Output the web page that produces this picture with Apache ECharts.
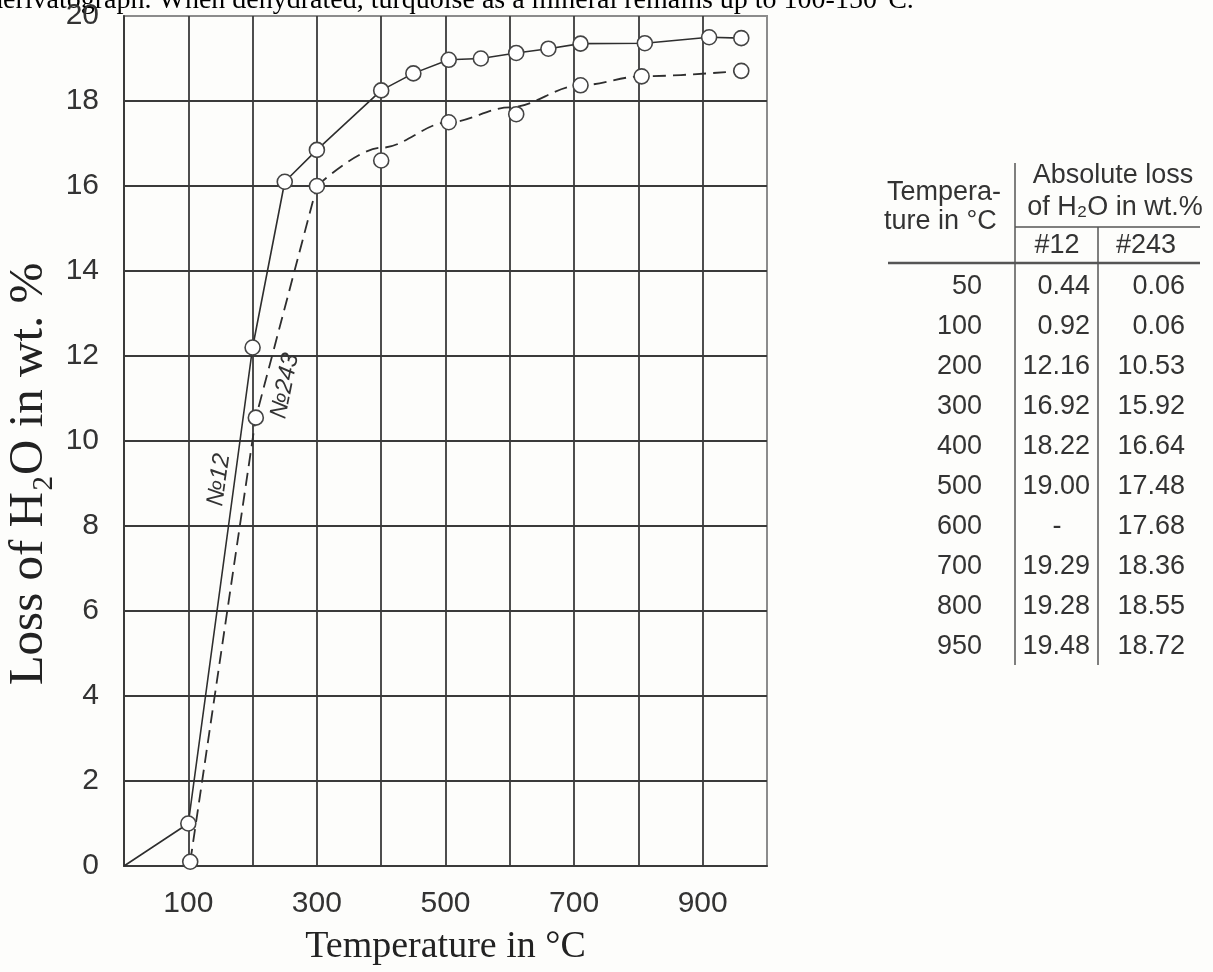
<!DOCTYPE html>
<html>
<head>
<meta charset="utf-8">
<title>Loss of H2O</title>
<script src="https://cdn.jsdelivr.net/npm/echarts@6.0.0/dist/echarts.min.js"></script>
<style>
html, body { margin: 0; padding: 0; background: #fdfdfb; }
#lossChart { width: 1213px; height: 972px; }
</style>
</head>
<body>
<div id="lossChart"></div>
<script>
// №12 - points (solid line, first point has no circle)
var temp12 = [0, 100, 200, 250, 300, 400, 450, 505, 555, 610, 660, 710, 810, 910, 960];
var loss12 = [0, 1.0, 12.2, 16.1, 16.85, 18.25, 18.65, 18.97, 19.0, 19.13, 19.23, 19.35, 19.36, 19.5, 19.48];
// №243 - circles
var temp243 = [103, 205, 300, 400, 505, 610, 710, 805, 960];
var loss243 = [0.1, 10.55, 16.0, 16.6, 17.5, 17.69, 18.37, 18.58, 18.71];
// №243 - dashed curve as drawn (straight up to 300, then a smooth curve above some circles)
var curveTemp243 = [103, 205, 300, 400, 505, 600, 710, 805, 960];
var curveLoss243 = [0.1, 10.55, 16.0, 16.9, 17.5, 17.85, 18.37, 18.58, 18.71];
var xTickLabels = [100, 300, 500, 700, 900];
// table at the right
var tableTemp = ['50', '100', '200', '300', '400', '500', '600', '700', '800', '950'];
var table12 = ['0.44', '0.92', '12.16', '16.92', '18.22', '19.00', '-', '19.29', '19.28', '19.48'];
var table243 = ['0.06', '0.06', '10.53', '15.92', '16.64', '17.48', '17.68', '18.36', '18.55', '18.72'];

var SANS = '"Liberation Sans", Arial, sans-serif';
var SERIF = '"Liberation Serif", "Times New Roman", serif';
var INK = '#333';

lossChart("lossChart");

function pairs(xs, ys) {
	return xs.map(function (x, i) { return [x, ys[i]]; });
}

function txt(x, y, text, size, align, extra) {
	var el = {
		type: 'text', x: x, y: y, z: 10,
		style: {
			text: text, fill: INK, fontSize: size, fontFamily: SANS,
			align: align || 'left', verticalAlign: 'middle'
		}
	};
	if (extra) {
		for (var k in extra) el[k] = extra[k];
	}
	return el;
}

function line(x1, y1, x2, y2, w) {
	return { type: 'line', z: 10, shape: { x1: x1, y1: y1, x2: x2, y2: y2 }, style: { stroke: '#555', lineWidth: w || 1.5 } };
}

//table of absolute loss
function tableGraphics() {
	var g = [];
	g.push(txt(887, 193, 'Tempera-', 27));
	g.push(txt(884, 222, 'ture in °C', 27));
	g.push(txt(1113, 176, 'Absolute loss', 27, 'center'));
	g.push(txt(1115, 208, 'of H₂O in wt.%', 27, 'center'));
	g.push(txt(1057, 246, '#12', 27, 'center'));
	g.push(txt(1146, 246, '#243', 27, 'center'));
	g.push(line(1015, 163, 1015, 665, 1.5));
	g.push(line(1098, 227, 1098, 665, 1.5));
	g.push(line(1015, 227, 1200, 227, 1.5));
	g.push(line(888, 263, 1200, 263, 2.5));
	for (var i = 0; i < tableTemp.length; i++) {
		var y = 287 + i * 40;
		g.push(txt(982, y, tableTemp[i], 27, 'right'));
		if (table12[i] === '-') {
			g.push(txt(1057, y, table12[i], 27, 'center'));
		} else {
			g.push(txt(1090, y, table12[i], 27, 'right'));
		}
		g.push(txt(1185, y, table243[i], 27, 'right'));
	}
	return g;
}

function lossChart(id) {
	var chart = echarts.init(document.getElementById(id));
	var data12 = pairs(temp12, loss12).map(function (p, i) {
		return i === 0 ? { value: p, symbol: 'none' } : p;
	});
	var curve243 = pairs(curveTemp243, curveLoss243);
	var bend = curveTemp243.indexOf(300);
	var gridLine = { color: '#3a3a3a', width: 1.8 };
	var dashed = { color: '#2e2e2e', width: 1.8, type: [13, 7] };
	var option = {
		animation: false,
		backgroundColor: '#fdfdfb',
		grid: {
			left: 124,
			right: 446,
			top: 16,
			bottom: 106,
			show: true,
			borderColor: '#8c8c8c',
			borderWidth: 2
		},
		xAxis: {
			type: 'value',
			min: 0,
			max: 1000,
			interval: 100,
			axisLine: { show: true, lineStyle: gridLine },
			axisTick: { show: false },
			splitLine: { show: true, showMaxLine: false, lineStyle: gridLine },
			axisLabel: {
				margin: 23,
				fontSize: 30,
				color: INK,
				fontFamily: SANS,
				formatter: function (v) { return xTickLabels.indexOf(v) >= 0 ? String(v) : ''; }
			},
			name: 'Temperature in °C',
			nameLocation: 'middle',
			nameGap: 62,
			nameTextStyle: { fontFamily: SERIF, fontSize: 38, color: '#222' }
		},
		yAxis: {
			type: 'value',
			min: 0,
			max: 20,
			interval: 2,
			axisLine: { show: true, lineStyle: gridLine },
			axisTick: { show: false },
			splitLine: { show: true, showMaxLine: false, lineStyle: gridLine },
			axisLabel: { margin: 25, fontSize: 30, color: INK, fontFamily: SANS }
		},
		graphic: [
			{
				type: 'text', x: -11, y: 1,
				style: { text: 'derivatograph. When dehydrated, turquoise as a mineral remains up to 100-150°C.', fill: '#000', fontSize: 28, fontFamily: SERIF, verticalAlign: 'middle' }
			},
			{
				type: 'text', x: 29, y: 474, rotation: Math.PI / 2,
				style: { text: 'Loss of H₂O in wt. %', fill: '#222', fontSize: 49, fontFamily: SERIF, align: 'center', verticalAlign: 'middle' }
			},
			{
				type: 'text', x: 219, y: 480, rotation: 1.43, z: 10,
				style: { text: '№12', fill: INK, fontSize: 24, fontStyle: 'italic', fontFamily: SANS, align: 'center', verticalAlign: 'middle' }
			},
			{
				type: 'text', x: 285, y: 386, rotation: 1.37, z: 10,
				style: { text: '№243', fill: INK, fontSize: 24, fontStyle: 'italic', fontFamily: SANS, align: 'center', verticalAlign: 'middle' }
			}
		].concat(tableGraphics()),
		series: [{
			name: '№12',
			type: 'line',
			data: data12,
			symbol: 'circle',
			symbolSize: 15,
			z: 4,
			lineStyle: { color: '#2e2e2e', width: 1.6 },
			itemStyle: { color: '#fff', borderColor: '#444', borderWidth: 1.6 }
		}, {
			name: '№243 rise',
			type: 'line',
			data: curve243.slice(0, bend + 1),
			showSymbol: false,
			z: 3,
			lineStyle: dashed
		}, {
			name: '№243 curve',
			type: 'line',
			data: curve243.slice(bend),
			smooth: 0.35,
			smoothMonotone: 'x',
			showSymbol: false,
			z: 3,
			lineStyle: dashed
		}, {
			name: '№243',
			type: 'scatter',
			data: pairs(temp243, loss243),
			symbol: 'circle',
			symbolSize: 15,
			z: 5,
			itemStyle: { color: '#fff', borderColor: '#444', borderWidth: 1.6, opacity: 1 }
		}]
	};
	chart.setOption(option);
}
</script>
</body>
</html>
